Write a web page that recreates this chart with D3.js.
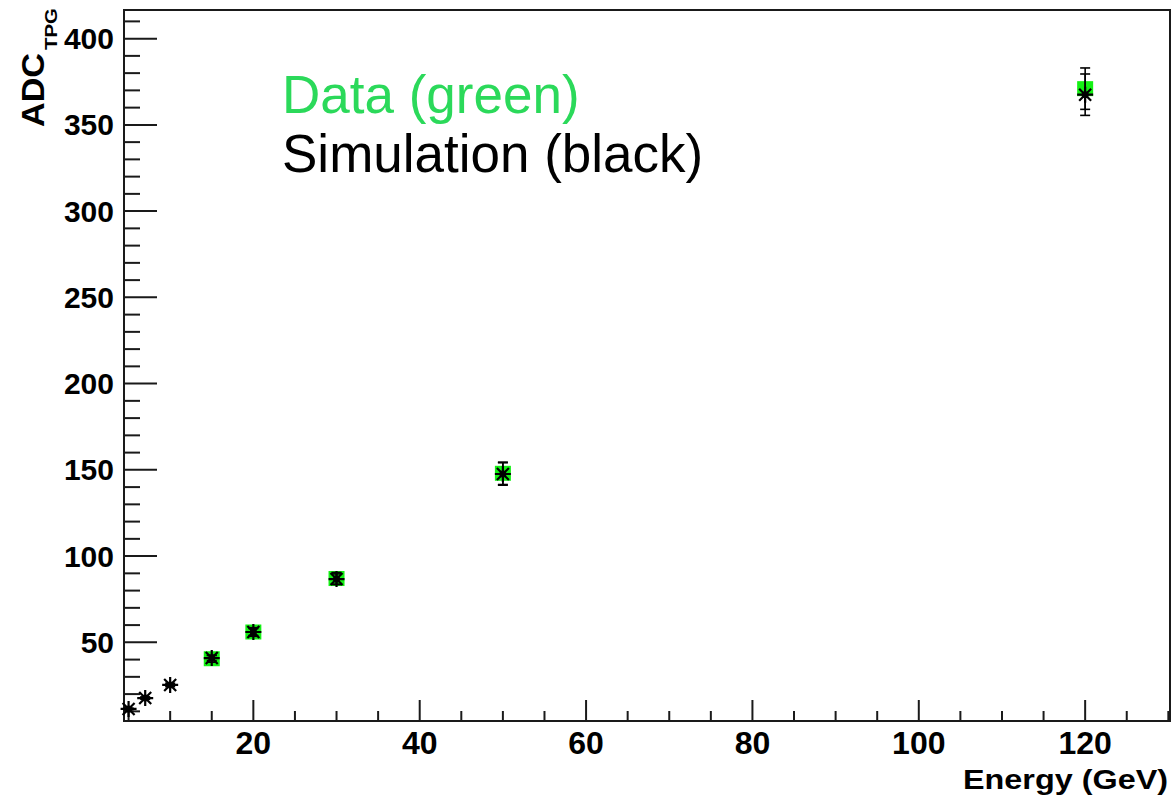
<!DOCTYPE html>
<html>
<head>
<meta charset="utf-8">
<script src="https://cdn.jsdelivr.net/npm/d3@7"></script>
<style>
  body { margin: 0; background: #fff; }
  text { font-family: "Liberation Sans", Arial, sans-serif; }
</style>
</head>
<body>
<div id="chart"></div>
<script>
const width = 1174, height = 800
const margin = {top: 10, right: 4, bottom: 79, left: 124}

// simulation (black stars)
const simEnergy = [5, 7, 10, 15, 20, 30, 50, 120]
const simADC = [11.4, 17.7, 25.3, 40.9, 56, 86.7, 147.6, 367.5]
const simErr = [0.5, 0.7, 1, 1.5, 2, 3, 6.5, 12]

// data (green squares)
const dataEnergy = [15, 20, 30, 50, 120]
const dataADC = [40.5, 56, 87, 148, 371]
const dataErr = [2, 2.5, 3.5, 6.5, 12]

const xMajor = [20, 40, 60, 80, 100, 120]
const yMajor = [50, 100, 150, 200, 250, 300, 350, 400]

const sim = simEnergy.map((e, i) => ({e: e, v: simADC[i], err: simErr[i]}))
const dat = dataEnergy.map((e, i) => ({e: e, v: dataADC[i], err: dataErr[i]}))

const x = d3.scaleLinear()
  .domain([4.45, 130.2])
  .range([margin.left, width - margin.right])

const y = d3.scaleLinear()
  .domain([4.4, 416.6])
  .range([height - margin.bottom, margin.top])

const svg = d3.select('#chart').append('svg')
  .attr('width', width)
  .attr('height', height)

const axisColor = '#1a1a1a'
const x0 = x.range()[0], x1 = x.range()[1]
const y0 = y.range()[0], y1 = y.range()[1]

// frame
svg.append('rect')
  .attr('x', x0).attr('y', y1)
  .attr('width', x1 - x0).attr('height', y0 - y1)
  .attr('fill', 'none')
  .attr('stroke', axisColor)
  .attr('stroke-width', 2)

// x ticks (inward)
const xMinor = d3.range(5, 131, 5).filter(v => v % 20 != 0)
svg.append('g').selectAll('line')
  .data(xMinor).enter().append('line')
  .attr('x1', d => x(d)).attr('x2', d => x(d))
  .attr('y1', y0).attr('y2', y0 - 10)
  .attr('stroke', axisColor).attr('stroke-width', 2)
svg.append('g').selectAll('line')
  .data(xMajor).enter().append('line')
  .attr('x1', d => x(d)).attr('x2', d => x(d))
  .attr('y1', y0).attr('y2', y0 - 21)
  .attr('stroke', axisColor).attr('stroke-width', 2)
svg.append('g').selectAll('text')
  .data(xMajor).enter().append('text')
  .attr('x', d => x(d))
  .attr('y', 754)
  .attr('text-anchor', 'middle')
  .attr('font-size', 32)
  .attr('font-weight', 'bold')
  .text(d => d)

// y ticks (inward)
const yMinor = d3.range(10, 416, 10).filter(v => v % 50 != 0)
svg.append('g').selectAll('line')
  .data(yMinor).enter().append('line')
  .attr('x1', x0).attr('x2', x0 + 16)
  .attr('y1', d => y(d)).attr('y2', d => y(d))
  .attr('stroke', axisColor).attr('stroke-width', 2)
svg.append('g').selectAll('line')
  .data(yMajor).enter().append('line')
  .attr('x1', x0).attr('x2', x0 + 33)
  .attr('y1', d => y(d)).attr('y2', d => y(d))
  .attr('stroke', axisColor).attr('stroke-width', 2)
svg.append('g').selectAll('text')
  .data(yMajor).enter().append('text')
  .attr('x', 114)
  .attr('y', d => y(d) + 10.5)
  .attr('text-anchor', 'end')
  .attr('font-size', 30)
  .attr('font-weight', 'bold')
  .text(d => d)

// axis titles
svg.append('text')
  .attr('x', 1168).attr('y', 789)
  .attr('text-anchor', 'end')
  .attr('font-size', 28)
  .attr('font-weight', 'bold')
  .attr('textLength', 205)
  .attr('lengthAdjust', 'spacingAndGlyphs')
  .text('Energy (GeV)')

svg.append('text')
  .attr('transform', 'translate(44,127) rotate(-90)')
  .attr('font-size', 31)
  .attr('font-weight', 'bold')
  .attr('textLength', 74)
  .attr('lengthAdjust', 'spacingAndGlyphs')
  .text('ADC')
svg.append('text')
  .attr('transform', 'translate(57,50) rotate(-90)')
  .attr('font-size', 17)
  .attr('font-weight', 'bold')
  .attr('textLength', 42)
  .attr('lengthAdjust', 'spacingAndGlyphs')
  .text('TPG')

// data squares
svg.append('g').selectAll('rect')
  .data(dat).enter().append('rect')
  .attr('x', d => x(d.e) - 8)
  .attr('y', d => y(d.v) - 7.5)
  .attr('width', 16)
  .attr('height', 15)
  .attr('fill', '#14f014')

// error bars (both series, black)
function errorBars(points, cls){
  const g = svg.append('g').attr('class', cls)
  points.forEach(function(d){
    g.append('line')
      .attr('x1', x(d.e)).attr('x2', x(d.e))
      .attr('y1', y(d.v - d.err)).attr('y2', y(d.v + d.err))
      .attr('stroke', '#000').attr('stroke-width', 1.6)
    ;[d.v - d.err, d.v + d.err].forEach(function(v){
      g.append('line')
        .attr('x1', x(d.e) - 5).attr('x2', x(d.e) + 5)
        .attr('y1', y(v)).attr('y2', y(v))
        .attr('stroke', '#000').attr('stroke-width', 1.6)
    })
  })
}
errorBars(dat, 'data-err')
errorBars(sim, 'sim-err')

// simulation stars
const r = 8, rd = 6
const starPath = `M${-r},0L${r},0M0,${-r}L0,${r}M${-rd},${-rd}L${rd},${rd}M${-rd},${rd}L${rd},${-rd}`
svg.append('g').selectAll('path')
  .data(sim).enter().append('path')
  .attr('transform', d => `translate(${x(d.e)},${y(d.v)})`)
  .attr('d', starPath)
  .attr('fill', 'none')
  .attr('stroke', '#000')
  .attr('stroke-width', 2.2)
svg.append('g').selectAll('circle')
  .data(sim).enter().append('circle')
  .attr('cx', d => x(d.e)).attr('cy', d => y(d.v))
  .attr('r', 3.5)
  .attr('fill', '#000')

// legend text
svg.append('text')
  .attr('x', 282).attr('y', 113)
  .attr('font-size', 53)
  .attr('fill', '#2bd95a')
  .text('Data (green)')
svg.append('text')
  .attr('x', 282).attr('y', 172)
  .attr('font-size', 53)
  .attr('fill', '#000')
  .text('Simulation (black)')
</script>
</body>
</html>
